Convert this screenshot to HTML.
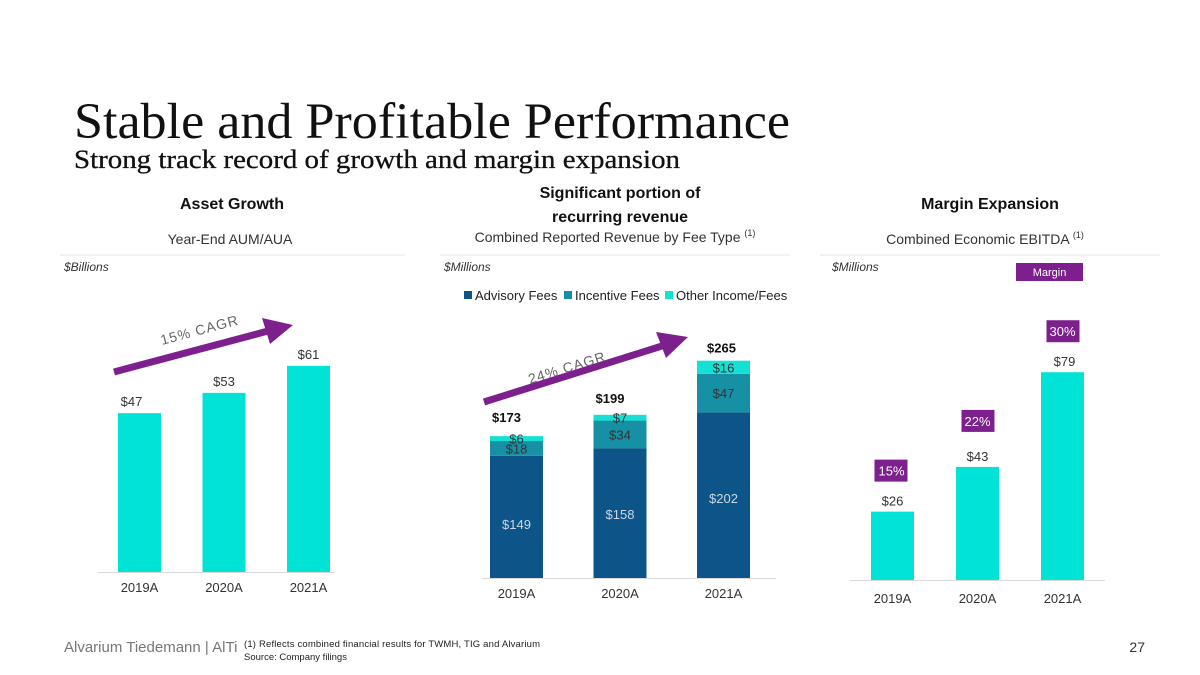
<!DOCTYPE html>
<html><head><meta charset="utf-8">
<style>
body{margin:0;width:1200px;height:675px;background:#fff;overflow:hidden;font-family:"Liberation Sans",sans-serif}
svg{position:absolute;left:0;top:0}
</style></head>
<body>
<svg width="1200" height="675" viewBox="0 0 1200 675">
<text x="74" y="138" font-family="Liberation Serif" font-size="51" fill="#111" textLength="716" lengthAdjust="spacingAndGlyphs">Stable and Profitable Performance</text>
<text x="74" y="168" font-family="Liberation Serif" font-size="26" fill="#111" stroke="#111" stroke-width="0.3" textLength="606" lengthAdjust="spacingAndGlyphs">Strong track record of growth and margin expansion</text>

<g font-size="16" font-weight="bold" fill="#111" text-anchor="middle">
<text x="232" y="209">Asset Growth</text>
<text x="620" y="198">Significant portion of</text>
<text x="620" y="222">recurring revenue</text>
<text x="990" y="209">Margin Expansion</text>
</g>
<g font-size="14" fill="#333" text-anchor="middle">
<text x="230" y="244">Year-End AUM/AUA</text>
<text x="615" y="242">Combined Reported Revenue by Fee Type <tspan font-size="9" dy="-6">(1)</tspan></text>
<text x="985" y="244">Combined Economic EBITDA <tspan font-size="9" dy="-6">(1)</tspan></text>
</g>
<g stroke="#e4e4e4" stroke-width="1">
<line x1="60" y1="255" x2="405" y2="255"/><line x1="440" y1="255" x2="790" y2="255"/><line x1="820" y1="255" x2="1160" y2="255"/>
</g>
<g font-size="12" font-style="italic" fill="#333">
<text x="64" y="271">$Billions</text>
<text x="444" y="271">$Millions</text>
<text x="832" y="271">$Millions</text>
</g>
<rect x="1016" y="263" width="67" height="18" fill="#7e1f8e"/>
<text x="1049.5" y="276" font-size="11" fill="#fff" text-anchor="middle">Margin</text>

<g font-size="13" fill="#222">
<rect x="464" y="291" width="8" height="8" fill="#0d5488"/>
<text x="475" y="300">Advisory Fees</text>
<rect x="564" y="291" width="8" height="8" fill="#1590a4"/>
<text x="575" y="300">Incentive Fees</text>
<rect x="665" y="291" width="8" height="8" fill="#14e0d4"/>
<text x="676" y="300">Other Income/Fees</text>
</g>

<g fill="#7e1f8e">
<line x1="114" y1="372" x2="268" y2="331" stroke="#7e1f8e" stroke-width="7"/>
<polygon points="293,325 262,318 270,344"/>
<line x1="484" y1="402" x2="662" y2="346" stroke="#7e1f8e" stroke-width="7"/>
<polygon points="688,337 656,332 666,358"/>
</g>
<text x="0" y="0" font-size="14" fill="#666" letter-spacing="1" transform="translate(162,345) rotate(-15)">15% CAGR</text>
<text x="0" y="0" font-size="14" fill="#666" letter-spacing="1" transform="translate(530,384) rotate(-17)">24% CAGR</text>

<g id="c1"></g><g id="c2"></g><g id="c3"></g>

<text x="64" y="652" font-size="15" fill="#777">Alvarium Tiedemann | AlTi</text>
<text x="244" y="647" font-size="9.5" fill="#222" textLength="296">(1)    Reflects combined financial results for TWMH, TIG and Alvarium</text>
<text x="244" y="660" font-size="9.5" fill="#222">Source: Company filings</text>
<text x="1145" y="652" font-size="14" fill="#333" text-anchor="end">27</text>
</svg>
<script>
const years=["2019A","2020A","2021A"];
const aum=[47,53,61];
const advisory=[149,158,202];
const incentive=[18,34,47];
const other=[6,7,16];
const totals=[173,199,265];
const ebitda=[26,43,79];
const margins=[15,22,30];
const NS="http://www.w3.org/2000/svg";
function el(p,t,a,txt){const e=document.createElementNS(NS,t);for(const k in a)e.setAttribute(k,a[k]);if(txt!=null)e.textContent=txt;p.appendChild(e);return e;}
const c1=document.getElementById('c1');
const y1=v=>572-v*3.38, x1=i=>139.5+i*84.5;
el(c1,'line',{x1:98,x2:335,y1:572.5,y2:572.5,stroke:'#d9d9d9'});
aum.forEach((v,i)=>{
 const r=el(c1,'rect',{x:x1(i)-21.5,y:y1(v),width:43,height:572-y1(v),fill:'#00e3d6'});
 
 
 const t=el(c1,'text',{x:x1(i)-(i==0?8:0),y:y1(v)-7,'font-size':13,fill:'#333','text-anchor':'middle'},'$'+v);
 
 
 const l=el(c1,'text',{x:x1(i),y:592,'font-size':13,fill:'#333','text-anchor':'middle'},years[i]);
 
 
});
const c2=document.getElementById('c2');
const s2=0.82, b2=578, x2=i=>516.5+i*103.5;
el(c2,'line',{x1:482,x2:776,y1:578.5,y2:578.5,stroke:'#d9d9d9'});
years.forEach((yr,i)=>{
 let base=b2;
 [[advisory,'#0d5488','advisory'],[incentive,'#1590a4','incentive'],[other,'#14e0d4','other']].forEach(([arr,c,n])=>{
  const h=arr[i]*s2;
  const r=el(c2,'rect',{x:x2(i)-26.5,y:base-h,width:53,height:h,fill:c});
  
  
  const ty=n=='advisory'?base-h/2+(i==2?8:i==0?12:6):base-h/2+5;
  const t=el(c2,'text',{x:x2(i),y:ty,'font-size':13,fill:n=='advisory'?'#c9d8e6':'#333','text-anchor':'middle'},'$'+arr[i]);
  
  
  base-=h;
 });
 const tt=el(c2,'text',{x:x2(i)-(i==2?2:10),y:b2-totals[i]*s2-(i==2?8:i==1?12:14),'font-size':13,'font-weight':'bold',fill:'#111','text-anchor':'middle'},'$'+totals[i]);
 
 
 const l=el(c2,'text',{x:x2(i),y:598,'font-size':13,fill:'#333','text-anchor':'middle'},yr);
 
 
});
const c3=document.getElementById('c3');
const y3=v=>580-v*2.63, x3=i=>892.5+i*85;
el(c3,'line',{x1:850,x2:1105,y1:580.5,y2:580.5,stroke:'#d9d9d9'});
ebitda.forEach((v,i)=>{
 const r=el(c3,'rect',{x:x3(i)-21.5,y:y3(v),width:43,height:580-y3(v),fill:'#00e3d6'});
 
 
 const t=el(c3,'text',{x:x3(i)+(i==2?2:0),y:y3(v)-6,'font-size':13,fill:'#333','text-anchor':'middle'},'$'+v);
 
 
 const my=y3(v)-(i==1?57:52);
 const m=el(c3,'rect',{x:x3(i)-16+(i==0?-2:0),y:my,width:33,height:22,fill:'#7e1f8e'});
 
 
 const mt=el(c3,'text',{x:x3(i)+(i==0?-1:0),y:my+16,'font-size':13,fill:'#fff','text-anchor':'middle'},margins[i]+'%');
 
 
 const l=el(c3,'text',{x:x3(i),y:603,'font-size':13,fill:'#333','text-anchor':'middle'},years[i]);
 
 
});
</script>
</body></html>
